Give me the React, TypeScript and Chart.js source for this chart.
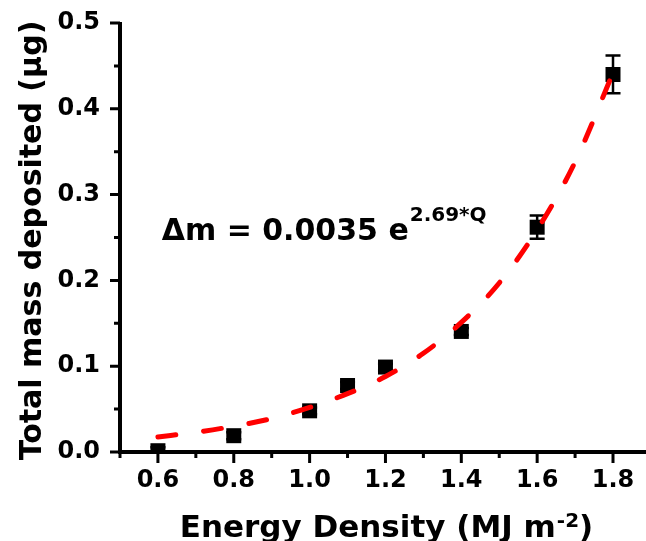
import React, { useEffect, useRef } from "react";
import { Chart, registerables } from "chart.js";

Chart.register(...registerables);

// ---- data ----
const energyDensity = [0.6, 0.8, 1.0, 1.1, 1.2, 1.4, 1.6, 1.8];
const massDeposited = [0.0015, 0.019, 0.048, 0.0775, 0.099, 0.1405, 0.262, 0.44];
const massError = [0.004, 0.004, 0.004, 0.004, 0.004, 0.004, 0.0135, 0.022];

const fitEnergy = [0.6, 0.7, 0.8, 0.9, 1.0, 1.1, 1.2, 1.3, 1.4, 1.5, 1.6, 1.7, 1.8];
const fitMass = [0.0176, 0.023, 0.030, 0.039, 0.052, 0.068, 0.088, 0.115, 0.151, 0.197, 0.259, 0.338, 0.442];

const xTickValues = [0.6, 0.8, 1.0, 1.2, 1.4, 1.6, 1.8];
const xMinorTickValues = [0.5, 0.7, 0.9, 1.1, 1.3, 1.5, 1.7];
const yTickValues = [0.0, 0.1, 0.2, 0.3, 0.4, 0.5];
const yMinorTickValues = [0.05, 0.15, 0.25, 0.35, 0.45];

const xRange = [0.5, 1.887];
const yRange = [0.0, 0.5];

const xTitleMain = "Energy Density (MJ m";
const xTitleSup = "-2";
const xTitleEnd = ")";
const yTitle = "Total mass deposited (μg)";
const fitLabelMain = "Δm = 0.0035 e";
const fitLabelSup = "2.69*Q";
const fitLabelAnchor = [0.61, 0.247];

const FONT = '"DejaVu Sans", "Liberation Sans", Arial, sans-serif';

const errorBarPlugin = {
  id: "errorBars",
  beforeDatasetsDraw(chart: any) {
    const { ctx, scales } = chart;
    const x = scales.x;
    const y = scales.y;
    ctx.save();
    ctx.strokeStyle = "#000";
    ctx.lineWidth = 2.5;
    energyDensity.forEach((e, i) => {
      const px = x.getPixelForValue(e);
      const pTop = y.getPixelForValue(massDeposited[i] + massError[i]);
      const pBot = y.getPixelForValue(Math.max(0, massDeposited[i] - massError[i]));
      ctx.beginPath();
      ctx.moveTo(px, pTop);
      ctx.lineTo(px, pBot);
      ctx.moveTo(px - 7.5, pTop);
      ctx.lineTo(px + 7.5, pTop);
      ctx.moveTo(px - 7.5, pBot);
      ctx.lineTo(px + 7.5, pBot);
      ctx.stroke();
    });
    ctx.restore();
  },
};

const axesPlugin = {
  id: "axesAndText",
  afterDraw(chart: any) {
    const { ctx, chartArea, scales } = chart;
    const x = scales.x;
    const y = scales.y;
    const L = chartArea.left;
    const B = chartArea.bottom;
    ctx.save();
    ctx.strokeStyle = "#000";
    ctx.lineCap = "butt";
    // axis lines
    ctx.lineWidth = 4;
    ctx.beginPath();
    ctx.moveTo(L, chartArea.top - 1);
    ctx.lineTo(L, B + 2);
    ctx.moveTo(L - 2, B);
    ctx.lineTo(chartArea.right + 4, B);
    ctx.stroke();
    // ticks
    ctx.lineWidth = 3;
    ctx.beginPath();
    yTickValues.forEach((v) => {
      const py = y.getPixelForValue(v);
      ctx.moveTo(L, py);
      ctx.lineTo(L - 10, py);
    });
    yMinorTickValues.forEach((v) => {
      const py = y.getPixelForValue(v);
      ctx.moveTo(L, py);
      ctx.lineTo(L - 6, py);
    });
    xTickValues.forEach((v) => {
      const px = x.getPixelForValue(v);
      ctx.moveTo(px, B);
      ctx.lineTo(px, B + 11);
    });
    xMinorTickValues.forEach((v) => {
      const px = x.getPixelForValue(v);
      ctx.moveTo(px, B);
      ctx.lineTo(px, B + 6);
    });
    ctx.stroke();

    ctx.fillStyle = "#000";
    // y title
    ctx.save();
    ctx.translate(41, 240.5);
    ctx.rotate(-Math.PI / 2);
    ctx.font = `bold 30px ${FONT}`;
    ctx.textAlign = "center";
    ctx.textBaseline = "alphabetic";
    ctx.fillText(yTitle, 0, 0);
    ctx.restore();

    // x title
    ctx.textAlign = "left";
    ctx.textBaseline = "alphabetic";
    const mainFont = `bold 31px ${FONT}`;
    const supFont = `bold 20px ${FONT}`;
    ctx.font = mainFont;
    const w1 = ctx.measureText(xTitleMain).width;
    const w3 = ctx.measureText(xTitleEnd).width;
    ctx.font = supFont;
    const w2 = ctx.measureText(xTitleSup).width;
    const total = w1 + w2 + w3 + 1;
    let sx = 386.5 - total / 2;
    ctx.font = mainFont;
    ctx.fillText(xTitleMain, sx, 537);
    sx += w1 + 1;
    ctx.font = supFont;
    ctx.fillText(xTitleSup, sx, 527);
    sx += w2;
    ctx.font = mainFont;
    ctx.fillText(xTitleEnd, sx, 537);

    // fit label
    const ax = x.getPixelForValue(fitLabelAnchor[0]);
    const ay = y.getPixelForValue(fitLabelAnchor[1]);
    ctx.font = `bold 30px ${FONT}`;
    ctx.fillText(fitLabelMain, ax, ay);
    const wm = ctx.measureText(fitLabelMain).width;
    ctx.font = `bold 20px ${FONT}`;
    ctx.fillText(fitLabelSup, ax + wm + 1, ay - 19);
    ctx.restore();
  },
};

export default function App() {
  const canvasRef = useRef<HTMLCanvasElement | null>(null);

  useEffect(() => {
    document.body.style.margin = "0";
    const canvas = canvasRef.current;
    if (!canvas) return;
    const chart = new Chart(canvas, {
      data: {
        datasets: [
          {
            type: "line",
            label: "fit",
            data: fitEnergy.map((e, i) => ({ x: e, y: fitMass[i] })),
            borderColor: "#ff0000",
            borderWidth: 5,
            borderDash: [18, 28],
            borderCapStyle: "round",
            pointRadius: 0,
            fill: false,
            cubicInterpolationMode: "monotone",
          } as any,
          {
            type: "scatter",
            label: "data",
            data: energyDensity.map((e, i) => ({ x: e, y: massDeposited[i] })),
            pointStyle: "rect",
            pointRadius: 10.6,
            pointHoverRadius: 10.6,
            backgroundColor: "#000",
            borderColor: "#000",
            borderWidth: 0,
            clip: { left: 30, top: 30, right: 30, bottom: 0 },
          } as any,
        ],
      },
      options: {
        responsive: false,
        animation: false,
        layout: { autoPadding: false, padding: { top: 23, right: 0, left: 0, bottom: 0 } },
        plugins: {
          legend: { display: false },
          tooltip: { enabled: false },
        },
        scales: {
          x: {
            type: "linear",
            min: xRange[0],
            max: xRange[1],
            afterBuildTicks: (scale: any) => {
              scale.ticks = xTickValues.map((v) => ({ value: v }));
            },
            afterFit: (scale: any) => {
              scale.height = 89;
              scale.paddingLeft = 0;
              scale.paddingRight = 0;
            },
            grid: { display: false, drawTicks: false },
            border: { display: false },
            ticks: {
              autoSkip: false,
              maxRotation: 0,
              padding: 14,
              color: "#000",
              font: { family: FONT, size: 24, weight: "bold" },
              callback: (v: any) => Number(v).toFixed(1),
            },
          },
          y: {
            type: "linear",
            min: yRange[0],
            max: yRange[1],
            afterBuildTicks: (scale: any) => {
              scale.ticks = yTickValues.map((v) => ({ value: v }));
            },
            afterFit: (scale: any) => {
              scale.width = 120;
              scale.paddingTop = 0;
              scale.paddingBottom = 0;
            },
            grid: { display: false, drawTicks: false },
            border: { display: false },
            ticks: {
              autoSkip: false,
              padding: 20,
              color: "#000",
              font: { family: FONT, size: 24, weight: "bold" },
              callback: (v: any) => Number(v).toFixed(1),
            },
          },
        },
      } as any,
      plugins: [errorBarPlugin, axesPlugin],
    });
    return () => chart.destroy();
  }, []);

  return (
    <canvas
      ref={canvasRef}
      width={646}
      height={541}
      style={{ display: "block", width: 646, height: 541 }}
    />
  );
}
